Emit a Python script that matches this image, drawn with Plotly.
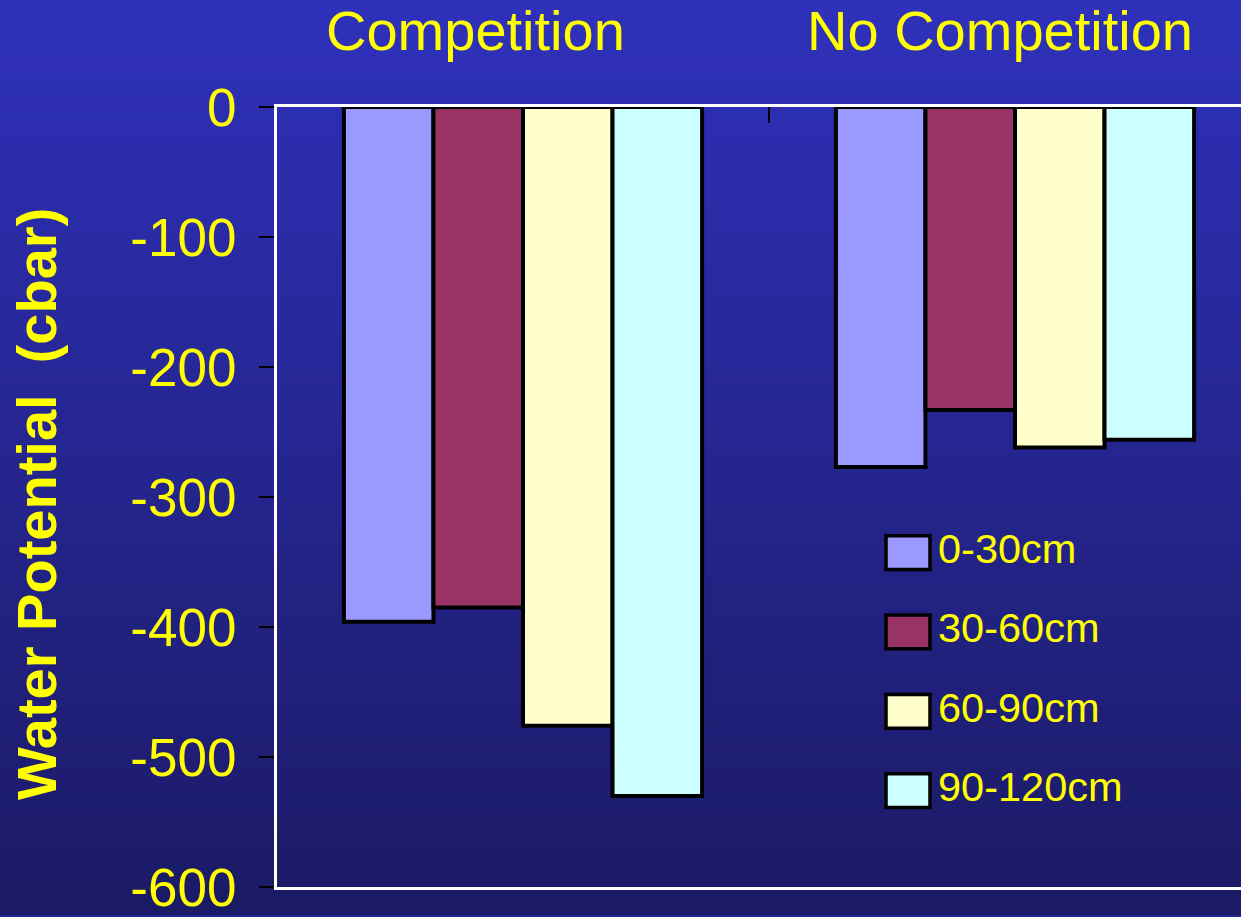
import plotly.graph_objects as go

# Soil water potential by depth, with and without competition
groups = ["Competition", "No Competition"]
depths = ["0-30cm", "30-60cm", "60-90cm", "90-120cm"]
depth_colors = ["#9999FF", "#993366", "#FFFFCC", "#CCFFFF"]

potential_0_30 = [-396, -277]
potential_30_60 = [-385, -233]
potential_60_90 = [-476, -262]
potential_90_120 = [-530, -256]
series = [potential_0_30, potential_30_60, potential_60_90, potential_90_120]

y_ticks = [0, -100, -200, -300, -400, -500, -600]

W, H = 1241, 917
PL, PR, PT, PB = 277, 1241, 107, 893
CAT_W = 492  # pixel width of one category slot
FONT = "Liberation Sans, Arial, sans-serif"
YELLOW = "#FFFF00"


def px(x):
    return (x - PL) / (PR - PL)


def py(y):
    return (PB - y) / (PB - PT)


fig = go.Figure()
for name, color, vals in zip(depths, depth_colors, series):
    fig.add_trace(go.Bar(
        x=groups, y=vals, name=name, showlegend=False,
        marker=dict(color=color, line=dict(color="black", width=4)),
    ))

shapes = []
# vertical blue gradient behind everything
top_rgb = (47, 49, 187)
bot_rgb = (27, 26, 101)
step = 8
for y0 in range(0, H, step):
    t = (y0 + step / 2) / H
    c = tuple(round(a + (b - a) * t) for a, b in zip(top_rgb, bot_rgb))
    shapes.append(dict(
        type="rect", xref="paper", yref="paper", layer="below",
        x0=px(-5), x1=px(W + 5), y0=py(min(y0 + step + 1, H + 5)), y1=py(y0 - 1 if y0 else -5),
        fillcolor="rgb(%d,%d,%d)" % c, line=dict(width=0),
    ))

annotations = []
# custom legend: swatch boxes with labels
for i, (name, color) in enumerate(zip(depths, depth_colors)):
    cy = 556 + 80 * i
    shapes.append(dict(
        type="rect", xref="paper", yref="paper",
        x0=px(886), x1=px(930), y0=py(cy + 17), y1=py(cy - 17),
        fillcolor=color, line=dict(color="black", width=3.5),
    ))
    annotations.append(dict(
        text=name, xref="paper", yref="paper", x=px(936), y=py(cy - 4),
        xanchor="left", yanchor="middle", showarrow=False,
        font=dict(family=FONT, size=41.5, color=YELLOW),
    ))

# group headings above the plot
for name, cx in zip(groups, [475, 999.5]):
    annotations.append(dict(
        text=name, xref="paper", yref="paper", x=px(cx), y=py(30),
        xanchor="center", yanchor="middle", showarrow=False,
        font=dict(family=FONT, size=56, color=YELLOW),
    ))

# y-axis title
annotations.append(dict(
    text="<b>Water Potential \u00a0(cbar)</b>", xref="paper", yref="paper",
    x=px(37), y=py(507), xanchor="center", yanchor="middle",
    textangle=-90, showarrow=False,
    font=dict(family=FONT, size=56, color=YELLOW),
))

fig.update_layout(
    width=W, height=H, autosize=False,
    margin=dict(l=PL, r=W - PR, t=PT, b=H - PB, pad=0),
    paper_bgcolor="rgb(37,38,144)", plot_bgcolor="rgba(0,0,0,0)",
    barmode="group", bargap=0.272, bargroupgap=0,
    shapes=shapes, annotations=annotations,
    xaxis=dict(
        type="category", range=[-0.5, -0.5 + (PR - PL) / CAT_W],
        side="top", showticklabels=False, tickson="boundaries",
        ticks="inside", ticklen=16, tickwidth=1.5, tickcolor="black",
        showline=True, linecolor="white", linewidth=3, mirror=True,
        showgrid=False, zeroline=False, layer="below traces",
    ),
    yaxis=dict(
        range=[-600, 0], tickmode="array", tickvals=y_ticks,
        ticktext=[str(v) for v in y_ticks],
        ticks="outside", ticklen=15, tickwidth=1.5, tickcolor="black",
        ticklabelstandoff=12, ticklabeloverflow="allow",
        tickfont=dict(family=FONT, size=53, color=YELLOW),
        showline=True, linecolor="white", linewidth=3, mirror=False,
        showgrid=False, zeroline=False, layer="below traces",
    ),
)

fig.write_html("out.html")
